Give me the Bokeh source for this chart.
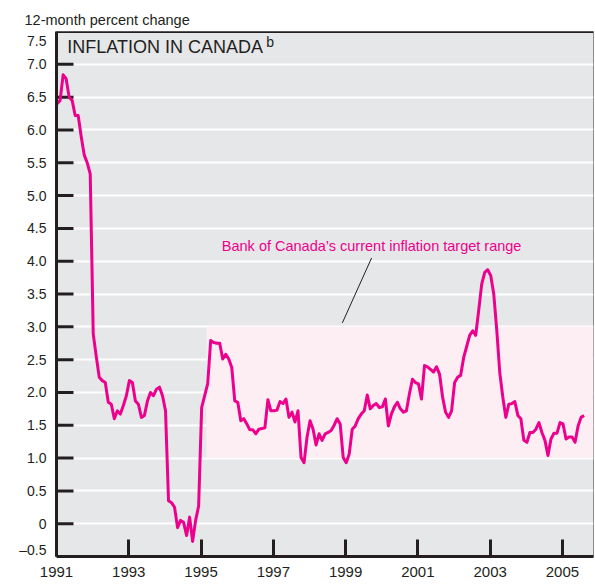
from bokeh.plotting import figure
from bokeh.models import FixedTicker, CustomJSTickFormatter, Span, Label, Range1d
from bokeh.embed import file_html
from bokeh.resources import INLINE

# ---- data (12-month percent change, monthly, starting January 1991) ----
start_year = 1991
inflation = [
    6.40, 6.45, 6.84, 6.78, 6.50, 6.45, 6.22, 6.22, 5.90, 5.62, 5.50, 5.33,   # 1991
    2.89, 2.55, 2.23, 2.18, 2.15, 1.85, 1.82, 1.60, 1.72, 1.67, 1.80, 1.95,   # 1992
    2.18, 2.15, 1.87, 1.82, 1.62, 1.65, 1.87, 2.00, 1.95, 2.05, 2.08, 1.95,   # 1993
    1.72, 0.35, 0.32, 0.25, -0.06, 0.05, 0.02, -0.18, 0.10, -0.27, 0.05, 0.27,  # 1994
    1.77, 1.95, 2.13, 2.79, 2.76, 2.75, 2.75, 2.51, 2.58, 2.51, 2.38, 1.87,   # 1995
    1.85, 1.57, 1.60, 1.52, 1.43, 1.43, 1.37, 1.44, 1.45, 1.46, 1.89, 1.72,   # 1996
    1.72, 1.73, 1.86, 1.83, 1.90, 1.62, 1.70, 1.55, 1.72, 1.01, 0.93, 1.32,   # 1997
    1.57, 1.44, 1.20, 1.37, 1.27, 1.37, 1.39, 1.42, 1.50, 1.60, 1.52, 1.01,   # 1998
    0.93, 1.06, 1.44, 1.49, 1.60, 1.67, 1.72, 1.96, 1.75, 1.80, 1.83, 1.77,   # 1999
    1.78, 1.90, 1.49, 1.67, 1.78, 1.85, 1.75, 1.70, 1.72, 1.98, 2.20, 2.15,   # 2000
    2.13, 1.90, 2.41, 2.39, 2.35, 2.31, 2.39, 2.28, 1.93, 1.70, 1.62, 1.72,   # 2001
    2.15, 2.23, 2.26, 2.53, 2.70, 2.87, 2.94, 2.87, 3.25, 3.65, 3.83, 3.87,   # 2002
    3.78, 3.50, 2.95, 2.30, 1.93, 1.62, 1.82, 1.83, 1.86, 1.65, 1.60, 1.27,   # 2003
    1.24, 1.39, 1.39, 1.44, 1.54, 1.39, 1.27, 1.04, 1.29, 1.38, 1.38, 1.54,   # 2004
    1.52, 1.29, 1.32, 1.32, 1.24, 1.49, 1.62, 1.65,                           # 2005
]
months = [start_year + (i + 0.2) / 12 for i in range(len(inflation))]

# target range band
target_low = 1.0
target_high = 3.0
target_start = 1995.15

# axes
x_start, x_end = 1991, 2005.86
y_start, y_end = -0.5, 7.5
x_ticks = [1991, 1993, 1995, 1997, 1999, 2001, 2003, 2005]
y_ticks = [-0.5, 0, 0.5, 1.0, 1.5, 2.0, 2.5, 3.0, 3.5, 4.0, 4.5, 5.0, 5.5, 6.0, 6.5, 7.0, 7.5]

FONT = "'Liberation Sans', Arial, sans-serif"
INK = "#231f20"
MAGENTA = "#ec008c"

p = figure(width=595, height=587,
           x_range=Range1d(x_start, x_end), y_range=Range1d(y_start, y_end),
           output_backend="svg", toolbar_location=None,
           min_border_left=56, min_border_right=2, min_border_top=31, min_border_bottom=31,
           background_fill_color="#e6e7e9", border_fill_color="white",
           outline_line_color="#8c8c8c", outline_line_width=1)

p.title.text = "12-month percent change"
p.title.text_font = FONT
p.title.text_font_size = "14.5px"
p.title.text_font_style = "normal"
p.title.text_color = INK
p.title.align = "left"
p.title.offset = -32
p.title.standoff = 7

# grid
p.xgrid.visible = False
p.ygrid.ticker = FixedTicker(ticks=y_ticks)
p.ygrid.grid_line_color = "white"
p.ygrid.grid_line_width = 2

# axes
for ax in (p.xaxis[0], p.yaxis[0]):
    ax.axis_line_color = INK
    ax.axis_line_width = 3
    ax.major_tick_line_color = INK
    ax.major_tick_line_width = 3
    ax.major_tick_in = 17
    ax.major_tick_out = 0
    ax.minor_tick_line_color = None
    ax.major_label_text_font = FONT
    ax.major_label_text_color = INK

p.xaxis.ticker = FixedTicker(ticks=x_ticks)
p.xaxis.major_label_text_font_size = "15px"
p.xaxis.major_label_standoff = 10

# y labels: the end labels (7.5 and -0.5) sit a few pixels inside the frame, as in the original
unit_px = 525 / (y_end - y_start)
y_label_pos = [y_end - 9 / unit_px] + y_ticks[1:-1] + [y_start + 7 / unit_px]
p.yaxis.ticker = FixedTicker(ticks=y_label_pos)
p.yaxis.major_tick_line_color = None
p.yaxis.major_label_text_font_size = "14px"
p.yaxis.major_label_standoff = 10
p.yaxis.formatter = CustomJSTickFormatter(code="""
if (tick > 7.25) return '7.5';
if (tick < -0.25) return '\\u20130.5';
if (Math.abs(tick) < 1e-9) return '0';
return tick.toFixed(1);
""")

# target band
p.quad(left=[target_start], right=[x_end], bottom=[target_low], top=[target_high],
       fill_color="#fdeef4", line_color=None)

# y tick marks (inside the frame, clipped at the axis)
inner_ticks = y_ticks[1:-1]
p.scatter(x=[x_start] * len(inner_ticks), y=inner_ticks, marker="dash", size=34,
          line_color=INK, line_width=3)

# inflation line
p.line(months, inflation, line_color=MAGENTA, line_width=3, line_join="round")

# top border
p.add_layout(Span(location=y_end, dimension="width", line_color=INK, line_width=3))

# annotation + leader line
p.segment(x0=[1998.91], y0=[3.06], x1=[1999.72], y1=[4.05], line_color=INK, line_width=1)
p.add_layout(Label(x=1999.72, y=4.23, text="Bank of Canada\u2019s current inflation target range",
                   text_align="center", text_baseline="alphabetic", text_font=FONT,
                   text_font_size="14.5px", text_color=MAGENTA))

# chart title with superscript
p.add_layout(Label(x=1991.30, y=7.27, text="INFLATION IN CANADA", text_baseline="alphabetic",
                   text_font=FONT, text_font_size="18px", text_color=INK))
p.add_layout(Label(x=1991.30, y=7.27, x_offset=199, y_offset=5, text="b", text_baseline="alphabetic",
                   text_font=FONT, text_font_size="14px", text_color=INK))

open("out.html", "w").write(file_html(p, INLINE))
